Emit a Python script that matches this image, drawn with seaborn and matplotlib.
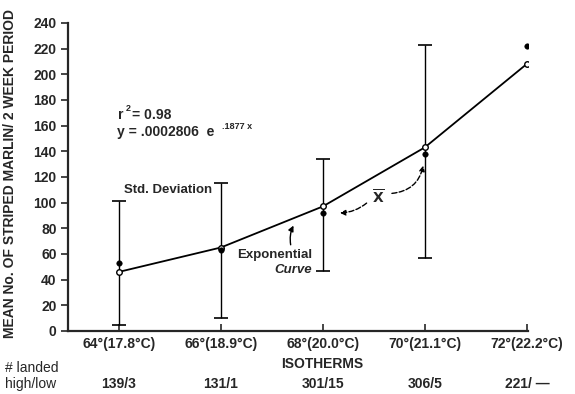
import pandas as pd
import matplotlib
matplotlib.use("Agg")
import matplotlib.pyplot as plt
import seaborn as sns

# values
isotherm_f = [64, 66, 68, 70, 72]
tick_labels = ["64°(17.8°C)", "66°(18.9°C)", "68°(20.0°C)", "70°(21.1°C)", "72°(22.2°C)"]
mean_catch = [53, 63, 92, 138, 222]          # observed means (filled dots)
curve_fit = [46, 65, 97, 143, 208]           # exponential curve values (open dots)
sd_upper = [101, 115, 134, 223, None]
sd_lower = [5, 10, 47, 57, None]
landed = ["139/3", "131/1", "301/15", "306/5", "221/ —"]

df = pd.DataFrame({"temp": isotherm_f, "mean": mean_catch, "fit": curve_fit,
                   "hi": sd_upper, "lo": sd_lower})

sns.set_style("ticks")
plt.rcParams["font.family"] = ["Liberation Sans", "DejaVu Sans"]

fig = plt.figure(figsize=(5.75, 3.94), dpi=100)
ax = fig.add_axes([0.118, 0.16, 0.8, 0.782])

# standard deviation bars
sd = df.dropna(subset=["hi", "lo"])
mid = (sd["hi"] + sd["lo"]) / 2
ax.errorbar(sd["temp"], mid, yerr=(sd["hi"] - sd["lo"]) / 2, fmt="none",
            ecolor="black", elinewidth=1.0, capsize=5, capthick=1.2, zorder=2)

# exponential curve and points
sns.lineplot(data=df, x="temp", y="fit", color="black", linewidth=1.3, ax=ax, zorder=3)
sns.scatterplot(data=df, x="temp", y="fit", marker="o", s=16, facecolor="white",
                edgecolor="black", linewidth=1.0, ax=ax, zorder=4)
sns.scatterplot(data=df, x="temp", y="mean", marker="o", s=16, color="black",
                edgecolor="black", ax=ax, zorder=4)

ax.set_xlim(63, 72.02)
ax.set_ylim(0, 240)
ax.set_yticks(range(0, 241, 20))
ax.set_xticks(isotherm_f)
ax.set_xticklabels(tick_labels, fontsize=10, fontweight="bold")
for lab in ax.get_yticklabels():
    lab.set_fontsize(10)
    lab.set_fontweight("bold")
ax.tick_params(axis="y", direction="out", length=5, width=1.2, pad=3)
ax.tick_params(axis="x", direction="in", length=5, width=1.2, pad=4)
sns.despine(ax=ax)
for s in ["left", "bottom"]:
    ax.spines[s].set_linewidth(1.6)

ax.set_xlabel("")
ax.set_ylabel("")
fig.text(0.017, 1 - 174 / 394, "MEAN No. OF STRIPED MARLIN/ 2 WEEK PERIOD", rotation=90,
         ha="center", va="center", fontsize=10, fontweight="bold")
fig.text(322 / 575, 1 - 364 / 394, "ISOTHERMS", ha="center", va="center",
         fontsize=10, fontweight="bold")

# landed counts below the axis
fig.text(5 / 575, 1 - 368 / 394, "# landed", ha="left", va="center", fontsize=10)
fig.text(5 / 575, 1 - 384 / 394, "high/low", ha="left", va="center", fontsize=10)
trans = ax.get_xaxis_transform()
for t, s in zip(isotherm_f, landed):
    ax.text(t, (331 - 384) / 308, s, transform=trans, ha="center", va="center",
            fontsize=10, fontweight="bold")

# annotations
ax.text(63.98, 168, "r", fontsize=10, fontweight="bold", va="center")
ax.text(64.14, 173, "2", fontsize=6.5, fontweight="bold", va="center")
ax.text(64.25, 168, "= 0.98", fontsize=10, fontweight="bold", va="center")
ax.text(63.96, 155, "y = .0002806  e", fontsize=10, fontweight="bold", va="center")
ax.text(66.02, 159.5, ".1877 x", fontsize=6.5, fontweight="bold", va="center")
ax.text(65.82, 110, "Std. Deviation", fontsize=9.5, fontweight="bold", ha="right", va="center")
ax.text(67.8, 59, "Exponential", fontsize=9.5, fontweight="bold", ha="right", va="center")
ax.text(67.78, 47.5, "Curve", fontsize=9.5, fontweight="bold", style="italic",
        ha="right", va="center")
ax.annotate("", xy=(67.45, 84), xytext=(67.38, 65),
            arrowprops=dict(arrowstyle="-|>", color="black", lw=1.0,
                            connectionstyle="arc3,rad=-0.2", mutation_scale=8))
ax.text(69.08, 104, r"$\overline{\mathbf{X}}$", fontsize=10, ha="center", va="center")
ax.annotate("", xy=(68.28, 92), xytext=(68.9, 101),
            arrowprops=dict(arrowstyle="-|>", color="black", lw=1.0, ls="--",
                            connectionstyle="arc3,rad=-0.2", mutation_scale=8))
ax.annotate("", xy=(69.98, 131), xytext=(69.3, 107),
            arrowprops=dict(arrowstyle="-|>", color="black", lw=1.0, ls="--",
                            connectionstyle="arc3,rad=0.4", mutation_scale=8))

fig.savefig("out.png", dpi=100)
